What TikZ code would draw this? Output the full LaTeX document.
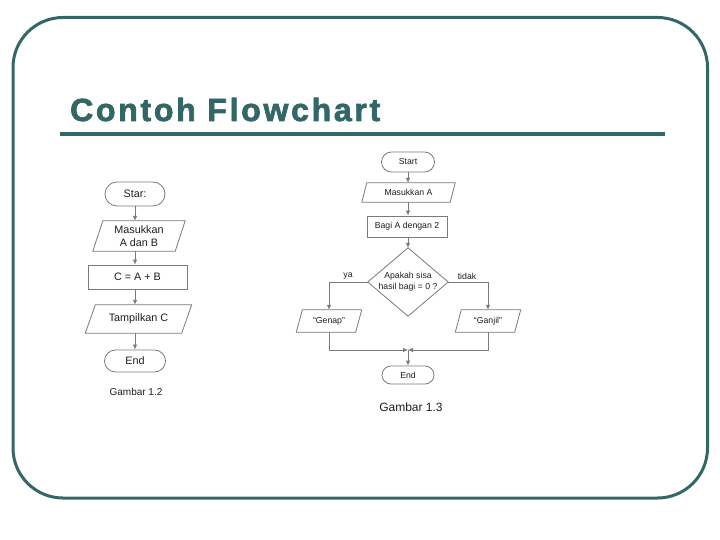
\documentclass[tikz,border=0pt]{standalone}
\usepackage{fontspec}
\setmainfont{Liberation Sans}
\usetikzlibrary{arrows.meta,shapes.misc,calc}
\definecolor{frameteal}{HTML}{336666}
\definecolor{lgray}{HTML}{7A7A7A}
\definecolor{txt}{HTML}{1E1E1E}
\tikzset{
  box/.style={draw=lgray, line width=0.8pt, align=center, inner sep=0pt, text=txt},
  term/.style={box, rounded rectangle},
  procbox/.style={box, rectangle},
  iobox/.style={align=center, inner sep=0pt, text=txt},
  arr/.style={draw=lgray, line width=0.8pt, -{Latex[length=5pt,width=4.5pt]}},
  ln/.style={draw=lgray, line width=0.8pt},
  lfont/.style={font=\fontsize{10.8}{12.8}\selectfont},
  rfont/.style={font=\fontsize{8.7}{10.5}\selectfont},
}
\begin{document}
\begin{tikzpicture}[x=1pt,y=-1pt]
\useasboundingbox (0,0) rectangle (720,540);
% frame and title
\draw[frameteal, line width=3pt, rounded corners=50pt] (13,17.5) rectangle (707.5,498);
\node[anchor=base west, inner sep=0pt, text=frameteal,
      font=\fontsize{32}{36}\selectfont\bfseries\addfontfeature{LetterSpace=8.5,FakeBold=2.2}] (title) at (70,121) {Contoh Flowchart};
\draw[frameteal, line width=3.5pt] (60,134) -- (665,134);

% ---------- left flowchart ----------
\node[term, lfont, minimum width=60pt, minimum height=24pt] (star) at (135,194) {Star:};
\node[iobox, lfont, minimum width=92pt, minimum height=30pt] (in1) at (139,236) {Masukkan\\A dan B};
\draw[ln] ([xshift=10pt]in1.north west) -- (in1.north east) -- ([xshift=-10pt]in1.south east) -- (in1.south west) -- cycle;
\node[procbox, lfont, minimum width=99pt, minimum height=24pt] (proc1) at (137.5,277) {C = A + B};
\node[iobox, lfont, minimum width=106pt, minimum height=28pt] (out1) at (138.5,319) {Tampilkan C};
\draw[ln] ([xshift=10pt]out1.north west) -- (out1.north east) -- ([xshift=-10pt]out1.south east) -- (out1.south west) -- cycle;
\node[term, lfont, minimum width=61pt, minimum height=22pt] (end1) at (135,361) {End};
\node[text=txt, font=\fontsize{10}{12}\selectfont] (cap1) at (136,392) {Gambar 1.2};

\draw[arr] (star.south) -- (star.south |- in1.north);
\draw[arr] (star.south |- in1.south) -- (star.south |- proc1.north);
\draw[arr] (star.south |- proc1.south) -- (star.south |- out1.north);
\draw[arr] (star.south |- out1.south) -- (end1.north);

% ---------- right flowchart ----------
\node[term, rfont, minimum width=53pt, minimum height=20pt] (start) at (408,162) {Start};
\node[iobox, rfont, minimum width=93pt, minimum height=19pt] (in2) at (408.5,192.5) {Masukkan A};
\draw[ln] ([xshift=5pt]in2.north west) -- (in2.north east) -- ([xshift=-5pt]in2.south east) -- (in2.south west) -- cycle;
\node[procbox, rfont, minimum width=80pt, minimum height=21pt] (proc2) at (407,226.5) {Bagi A dengan 2};
\node[iobox, rfont, minimum width=80pt, minimum height=68pt] (dec) at (408,282) {Apakah sisa\\hasil bagi = 0 ?};
\draw[ln] (dec.north) -- (dec.east) -- (dec.south) -- (dec.west) -- cycle;
\node[iobox, rfont, minimum width=65pt, minimum height=22pt] (genap) at (329,321) {“Genap”};
\draw[ln] ([xshift=6pt]genap.north west) -- (genap.north east) -- ([xshift=-6pt]genap.south east) -- (genap.south west) -- cycle;
\node[iobox, rfont, minimum width=65pt, minimum height=22pt] (ganjil) at (488,321) {“Ganjil”};
\draw[ln] ([xshift=6pt]ganjil.north west) -- (ganjil.north east) -- ([xshift=-6pt]ganjil.south east) -- (ganjil.south west) -- cycle;
\node[term, rfont, minimum width=52pt, minimum height=18pt] (end2) at (408,375) {End};
\node[text=txt, font=\fontsize{12}{14}\selectfont] (cap2) at (411,407) {Gambar 1.3};
\node[rfont, text=txt, inner sep=0pt] (ya) at (348,276) {ya};
\node[rfont, text=txt, inner sep=0pt] (tidak) at (467,276) {tidak};
\coordinate (join) at (408,350);

\draw[arr] (start.south) -- (start.south |- in2.north);
\draw[arr] (start.south |- in2.south) -- (start.south |- proc2.north);
\draw[arr] (start.south |- proc2.south) -- (dec.north);
\draw[arr] (dec.west) -| (genap.north);
\draw[arr] (dec.east) -| (ganjil.north);
\draw[arr] (genap.south) |- (join);
\draw[arr] (ganjil.south) |- (join);
\draw[arr] (join) -- (end2.north);
\end{tikzpicture}
\end{document}
